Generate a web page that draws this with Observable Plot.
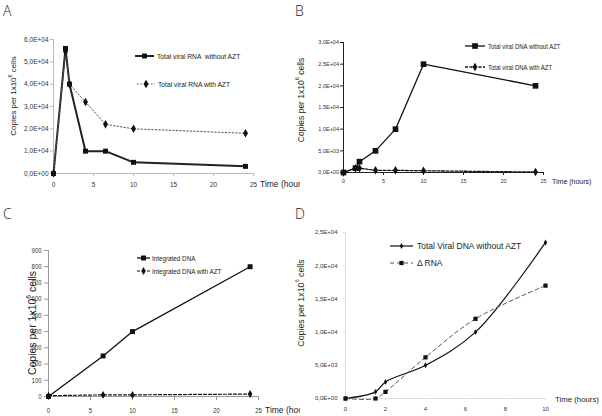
<!DOCTYPE html>
<html><head><meta charset="utf-8">
<script src="https://cdn.jsdelivr.net/npm/d3@7"></script>
<script src="https://cdn.jsdelivr.net/npm/@observablehq/plot@0.6"></script>
<style>
body{margin:0;background:#fff;}
#wrap{position:relative;width:602px;height:416px;overflow:hidden;background:#fff;}
.panel{position:absolute;overflow:hidden;}
.panel.open{overflow:visible;}
.panel svg{display:block;overflow:hidden;}
.panel.open svg{overflow:visible;}
.letter{position:absolute;font:300 14px "Open Sans","Liberation Sans",sans-serif;color:#222;line-height:1;z-index:5;}
</style></head><body><div id="wrap"></div>
<script>
// ---------- data ----------
// Panel A: total viral RNA
const timeA = [0, 1.5, 2, 4, 6.5, 10, 24];
const rnaNoAZT = [0, 56000, 40000, 10000, 10000, 5000, 3200];
const rnaAZT = [0, 54500, 40000, 32000, 22000, 20000, 18000];
// Panel B: total viral DNA
const timeB = [0, 1.5, 2, 4, 6.5, 10, 24];
const dnaNoAZT = [0, 1000, 2500, 5000, 10000, 25000, 20000];
const dnaAZT = [0, 1000, 1000, 500, 500, 400, 100];
// Panel C: integrated DNA
const timeC = [0, 6.5, 10, 24];
const intDNA = [0, 250, 400, 800];
const intDNAAZT = [5, 10, 10, 15];
// Panel D: total viral DNA vs delta RNA
const timeD = [0, 1.5, 2, 4, 6.5, 10];
const dnaD = [0, 1000, 2500, 5000, 10000, 23500];
const deltaRNA = [0, 0, 1000, 6200, 12000, 17000];
// tick values
const ticksA_y = [0, 10000, 20000, 30000, 40000, 50000, 60000];
const ticksB_y = [0, 5000, 10000, 15000, 20000, 25000, 30000];
const ticksC_y = [0, 100, 200, 300, 400, 500, 600, 700, 800, 900];
const ticksD_y = [0, 5000, 10000, 15000, 20000, 25000];
const ticks25 = [0, 5, 10, 15, 20, 25];
const ticks10 = [0, 2, 4, 6, 8, 10];
// labels
const yTitle = ["Copies per 1x10", "6", " cells"];
const xTitle = "Time (hours)";
const legA = ["Total viral RNA  without AZT", "Total viral RNA with AZT"];
const legB = ["Total viral DNA without AZT", "Total viral DNA with AZT"];
const legC = ["Integrated DNA", "Integrated DNA with AZT"];
const legD = ["Total Viral DNA without AZT", "\u0394 RNA"];

// ---------- helpers ----------
const ARIAL = "'Liberation Sans',Arial,sans-serif";
function sci(v) {
  if (v === 0) return "0,0E+00";
  const e = Math.floor(Math.log10(v) + 1e-9);
  const m = v / Math.pow(10, e);
  return m.toFixed(1).replace(".", ",") + "E+" + String(e).padStart(2, "0");
}
const zip = (xs, ys) => xs.map((x, i) => ({x, y: ys[i]}));
const wrap = document.getElementById("wrap");
const symbols = {square: d3.symbolSquare, diamond: d3.symbolDiamond};
function squeeze(sel, k) {
  if (!k || k === 1) return;
  sel.each(function () {
    const w = this.getComputedTextLength();
    if (w > 0) { this.setAttribute("textLength", w * k); this.setAttribute("lengthAdjust", "spacingAndGlyphs"); }
  });
}

function panel(p) {
  const div = document.createElement("div");
  div.className = "panel" + (p.open ? " open" : "");
  Object.assign(div.style, {left: p.left + "px", top: p.top + "px", width: p.width + "px", height: p.height + "px"});
  const marks = [
    Plot.ruleY([p.yDomain[0]], {stroke: p.axisColor, strokeWidth: 1}),
    Plot.ruleX([p.xDomain[0]], {stroke: p.axisColor, strokeWidth: 1}),
    Plot.axisX({ticks: p.xTicks, tickSize: p.xTickSize, tickPadding: p.xTickPadding, stroke: p.axisColor, fill: "#333", label: null, fontSize: p.tickFont, fontFamily: ARIAL}),
    Plot.axisY({ticks: p.yTicks, tickFormat: p.yFormat, tickSize: p.yTickSize, tickPadding: p.yTickPadding, stroke: p.axisColor, fill: "#333", label: null, fontSize: p.tickFont, fontFamily: ARIAL})
  ];
  for (const s of p.series) {
    marks.push(Plot.line(s.data, {x: "x", y: "y", stroke: s.stroke, strokeWidth: s.width, strokeDasharray: s.dash, curve: s.curve || "linear"}));
    marks.push(Plot.dot(s.data, {x: "x", y: "y", symbol: s.symbol, fill: "#111", stroke: "none", r: s.r}));
  }
  const svg = Plot.plot({
    width: p.width, height: p.height,
    marginLeft: p.m[0], marginRight: p.m[1], marginTop: p.m[2], marginBottom: p.m[3],
    x: {domain: p.xDomain}, y: {domain: p.yDomain},
    style: {background: "white", color: "#222"},
    marks
  });
  div.appendChild(svg);
  wrap.appendChild(div);
  const g = d3.select(svg);
  squeeze(g.selectAll("g[aria-label$='tick label'] text"), p.tickSqueeze);
  // y title
  const t = g.append("text")
    .attr("transform", `translate(${p.yTitle[0]},${p.yTitle[1]}) rotate(-90)`)
    .attr("text-anchor", "middle").attr("dominant-baseline", "central")
    .attr("font-family", ARIAL).attr("font-size", p.yTitle[2]).attr("fill", "#222");
  t.append("tspan").text(yTitle[0]);
  t.append("tspan").text(yTitle[1]).attr("font-size", p.yTitle[2] * 0.65).attr("dy", -p.yTitle[2] * 0.4);
  t.append("tspan").text(yTitle[2]).attr("dy", p.yTitle[2] * 0.4);
  // x title
  g.append("text").attr("x", p.xTitle[0]).attr("y", p.xTitle[1]).attr("dominant-baseline", "central")
    .attr("text-anchor", "start")
    .attr("font-family", ARIAL).attr("font-size", p.xTitle[2]).attr("fill", "#222").text(xTitle);
  // legend
  p.series.forEach((s, i) => {
    const L = p.legend[i];
    const lg = g.append("g");
    lg.append("line").attr("x1", L.x0).attr("x2", L.x1).attr("y1", L.y).attr("y2", L.y)
      .attr("stroke", s.stroke).attr("stroke-width", s.width).attr("stroke-dasharray", s.dash || null);
    lg.append("path").attr("d", d3.symbol(symbols[s.symbol], Math.PI * s.r * s.r)())
      .attr("transform", `translate(${(L.x0 + L.x1) / 2},${L.y})`).attr("fill", "#111");
    const tx = lg.append("text").attr("x", L.tx).attr("y", L.y).attr("dominant-baseline", "central")
      .attr("text-anchor", "start")
      .attr("font-family", ARIAL).attr("font-size", p.legFont).attr("fill", "#222").text(L.text);
    squeeze(tx, p.legSqueeze);
  });
  return svg;
}

// ---------- Panel A ----------
panel({
  left: 0, top: 0, width: 300, height: 200, m: [53, 47, 39, 27],
  xDomain: [0, 25], yDomain: [0, 60000], xTicks: ticks25, yTicks: ticksA_y, yFormat: sci,
  axisColor: "#bbb", tickFont: 6.5,
  xTickSize: 3, xTickPadding: 5.5, yTickSize: 3, yTickPadding: 2,
  series: [
    {data: zip(timeA, rnaNoAZT), stroke: "#222", width: 2, symbol: "square", r: 2.8},
    {data: zip(timeA, rnaAZT), stroke: "#555", width: 1, dash: "1.5,2", symbol: "diamond", r: 2.6}
  ],
  legend: [
    {x0: 135, x1: 154, y: 56, tx: 157, text: legA[0]},
    {x0: 137, x1: 155, y: 84, tx: 158, text: legA[1]}
  ],
  legFont: 8, legSqueeze: 0.84,
  yTitle: [13, 96, 8], xTitle: [260, 184, 8.5]
});

// ---------- Panel B ----------
panel({
  left: 300, top: 0, width: 302, height: 200, m: [43, 59, 42, 28], open: true,
  xDomain: [0, 25], yDomain: [0, 30000], xTicks: ticks25, yTicks: ticksB_y, yFormat: sci,
  axisColor: "#222", tickFont: 5.5,
  xTickSize: 3, xTickPadding: 4, yTickSize: 3, yTickPadding: 1.5,
  series: [
    {data: zip(timeB, dnaNoAZT), stroke: "#111", width: 1.3, symbol: "square", r: 3.2},
    {data: zip(timeB, dnaAZT), stroke: "#111", width: 1.3, dash: "3,1.5", symbol: "diamond", r: 2.6}
  ],
  legend: [
    {x0: 165, x1: 185, y: 46, tx: 188, text: legB[0]},
    {x0: 165, x1: 185, y: 67, tx: 188, text: legB[1]}
  ],
  legFont: 6.5, legSqueeze: 0.92,
  yTitle: [0.5, 100, 8.5], xTitle: [252, 181, 7]
});

// ---------- Panel C ----------
panel({
  left: 0, top: 200, width: 300, height: 216, m: [48, 42, 50, 20],
  xDomain: [0, 25], yDomain: [0, 900], xTicks: ticks25, yTicks: ticksC_y, yFormat: d => String(d),
  axisColor: "#999", tickFont: 7, tickSqueeze: 0.85,
  xTickSize: 4, xTickPadding: 7.5, yTickSize: 4, yTickPadding: 3,
  series: [
    {data: zip(timeC, intDNA), stroke: "#111", width: 1.3, symbol: "square", r: 2.8},
    {data: zip(timeC, intDNAAZT), stroke: "#111", width: 1.2, dash: "3,2", symbol: "diamond", r: 2.4}
  ],
  legend: [
    {x0: 137, x1: 150, y: 58, tx: 152, text: legC[0]},
    {x0: 137, x1: 150, y: 71, tx: 152, text: legC[1]}
  ],
  legFont: 7.5, legSqueeze: 0.84,
  yTitle: [32, 123, 10.5], xTitle: [265, 210, 8.5]
});

// ---------- Panel D ----------
panel({
  left: 300, top: 200, width: 302, height: 216, m: [45, 57, 32, 18], open: true,
  xDomain: [0, 10], yDomain: [0, 25000], xTicks: ticks10, yTicks: ticksD_y, yFormat: sci,
  axisColor: "#ddd", tickFont: 6,
  xTickSize: 2, xTickPadding: 6, yTickSize: 2, yTickPadding: 6,
  series: [
    {data: zip(timeD, dnaD), stroke: "#111", width: 1.2, symbol: "diamond", r: 1.8, curve: "catmull-rom"},
    {data: zip(timeD, deltaRNA), stroke: "#555", width: 1, dash: "4,3", symbol: "square", r: 2.4, curve: "catmull-rom"}
  ],
  legend: [
    {x0: 90, x1: 113, y: 46, tx: 117, text: legD[0]},
    {x0: 90, x1: 113, y: 63, tx: 117, text: legD[1]}
  ],
  legFont: 8.5,
  yTitle: [1, 103, 8.8], xTitle: [255, 199, 7.8]
});

// panel letters
[["A", 3, 4], ["B", 295, 4], ["C", 3, 207], ["D", 295, 207]].forEach(([t, x, y]) => {
  const d = document.createElement("div");
  d.className = "letter"; d.textContent = t;
  d.style.left = x + "px"; d.style.top = y + "px";
  wrap.appendChild(d);
});
</script>
</body></html>
